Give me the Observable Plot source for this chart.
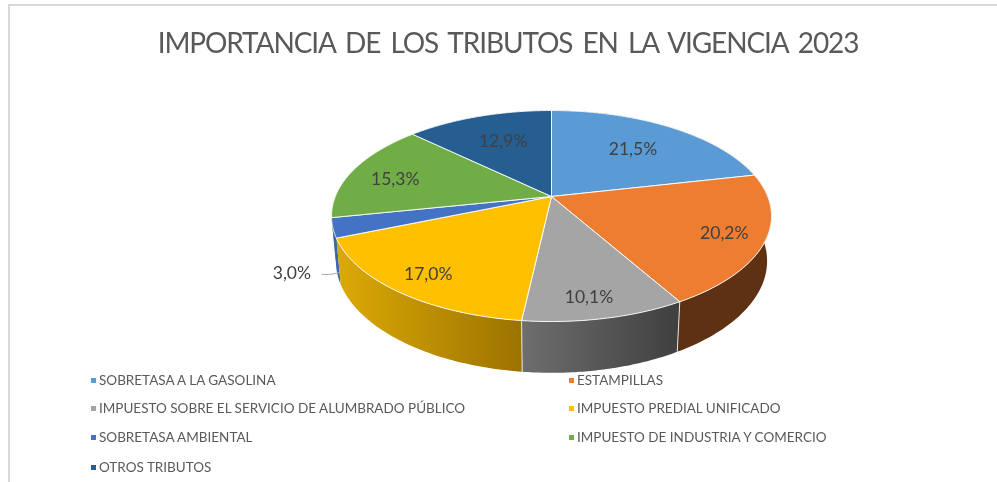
<!DOCTYPE html>
<html lang="es">
<head>
<meta charset="utf-8">
<script src="https://cdn.jsdelivr.net/npm/d3@7"></script>
<script src="https://cdn.jsdelivr.net/npm/@observablehq/plot@0.6"></script>
<style>
  html, body { margin: 0; padding: 0; background: #fff; overflow: hidden; }
  #frame { position: absolute; left: 8px; top: 4px; width: 989px; height: 478px; box-sizing: border-box;
           border-left: 2px solid #d9d9d9; border-top: 2px solid #d9d9d9; font-family: Lato, sans-serif; filter: blur(0.35px); }
  #title { height: 69px; margin: 0; padding: 19px 0 0 9px; box-sizing: border-box; text-align: center;
           font-size: 28px; line-height: 34px; font-weight: 400; color: #595959; word-spacing: 4px; letter-spacing: -1.1px; white-space: nowrap; }
  #chart svg { display: block; }
  #legend { position: absolute; left: 0; top: 359px; width: 987px; height: 118px; color: #595959; font-size: 13.5px; }
  .item { position: absolute; white-space: nowrap; line-height: 16px; }
  .item i { position: absolute; left: -8px; top: 6px; width: 5px; height: 5px; }
</style>
</head>
<body>
<div id="frame">
  <h1 id="title">IMPORTANCIA DE LOS TRIBUTOS EN LA VIGENCIA 2023</h1>
  <div id="chart"></div>
  <div id="legend"></div>
</div>
<script>
const categories = ["SOBRETASA A LA GASOLINA", "ESTAMPILLAS", "IMPUESTO SOBRE EL SERVICIO DE ALUMBRADO PÚBLICO", "IMPUESTO PREDIAL UNIFICADO", "SOBRETASA AMBIENTAL", "IMPUESTO DE INDUSTRIA Y COMERCIO", "OTROS TRIBUTOS"];
const values = [21.5, 20.2, 10.1, 17.0, 3.0, 15.3, 12.9];
const labels = ["21,5%", "20,2%", "10,1%", "17,0%", "3,0%", "15,3%", "12,9%"];
const colors = ["#5B9BD5", "#ED7D31", "#A5A5A5", "#FFC000", "#4472C4", "#70AD47", "#255E91"];

// View of the pie (perspective and depth) and where each label sits relative to its slice
const tilt = 0.185, depth = 0.43, floorScale = 0.98;
const labelRadius = [0.66, 0.82, 0.84, 0.83, 1, 0.77, 0.66];
const labelShift = [0, 0, 0.0045, 0, 0, -0.006, 0.003];
const wallFill = ["#5f3113", "#5f3113", "url(#wallGrey)", "url(#wallYellow)", "#3a66b0", "#70AD47", "#255E91"];

// Perspective projection of a disk point given as clockwise turn from the top
const project = (turn, r = 1) => {
  const a = turn * 2 * Math.PI, X = r * Math.sin(a), Y = -r * Math.cos(a), w = 1 - tilt * Y;
  return {x: X / w, y: Y / w, w};
};
const floor = (turn) => {
  const p = project(turn);
  return {x: p.x * floorScale, y: p.y * floorScale + depth / p.w};
};
const turns = (a, b) => d3.range(0, 61).map((i) => a + (b - a) * i / 60);

const total = d3.sum(values);
const cum = d3.cumsum(values).map((v) => v / total);
const slices = values.map((v, i) => ({i, start: i ? cum[i - 1] : 0, end: cum[i]}));

const top3d = (s) => [{x: 0, y: project(0, 0).y}, ...turns(s.start, s.end).map((t) => project(t))];
const wall = (s) => [...turns(s.start, s.end).map((t) => project(t)), ...turns(s.end, s.start).map(floor)];

const labelData = slices.map((s) => ({...project((s.start + s.end) / 2 + labelShift[s.i], labelRadius[s.i]), text: labels[s.i], i: s.i}));

// 3,0% sits outside the pie, tied to the blue wall by a leader
const blueTurn = (slices[4].start + slices[4].end) / 2;
const blueRim = project(blueTurn), blueFloor = floor(blueTurn);
const anchor = {x: blueRim.x + (blueFloor.x - blueRim.x) * 0.95 + 0.025, y: blueRim.y + (blueFloor.y - blueRim.y) * 0.95};
const leader = [[anchor.x, anchor.y], [anchor.x - 0.05, anchor.y + 0.035], [anchor.x - 0.095, anchor.y + 0.03]]
  .map(([x, y]) => ({x, y}));

const separators = [slices[1].end, slices[2].end].map((t) => {
  const a = project(t), b = floor(t);
  return {x1: a.x, y1: a.y, x2: b.x, y2: b.y};
});

const defs = () => {
  const svgNS = "http://www.w3.org/2000/svg";
  const d = document.createElementNS(svgNS, "defs");
  const add = (id, c0, c1) => {
    const g = document.createElementNS(svgNS, "linearGradient");
    g.setAttribute("id", id);
    [[0, c0], [1, c1]].forEach(([o, c]) => {
      const s = document.createElementNS(svgNS, "stop");
      s.setAttribute("offset", o); s.setAttribute("stop-color", c);
      g.appendChild(s);
    });
    d.appendChild(g);
  };
  add("wallYellow", "#dcaa06", "#9c7200");
  add("wallGrey", "#6e6e6e", "#3f3f3f");
  return d;
};

const xy = {x: "x", y: "y"};
const chart = Plot.plot({
  width: 987, height: 369,
  margin: 0,
  x: {axis: null, domain: [-1, 1], range: [541 - 216.2, 541 + 216.2]},
  y: {axis: null, domain: [-1, 1], range: [121 - 101.9, 121 + 101.9]},
  marks: [
    defs,
    ...[0, 5, 6, 1, 4, 3, 2].map((i) => Plot.line(wall(slices[i]), {...xy, fill: wallFill[i], stroke: "none"})),
    Plot.link(separators, {x1: "x1", y1: "y1", x2: "x2", y2: "y2", stroke: "#e4e4e4", strokeWidth: 1}),
    ...slices.map((s) => Plot.line([...top3d(s), top3d(s)[0]], {...xy, fill: colors[s.i], stroke: "#ffffff", strokeWidth: 0.9})),
    Plot.line(leader, {...xy, curve: "basis", stroke: "#a6a6a6", strokeWidth: 1}),
    Plot.text(labelData.filter((d) => d.i !== 4), {...xy, text: "text", dy: 1, fontSize: 17.5, fontFamily: "Lato, sans-serif", fill: "#404040"}),
    Plot.text([leader[2]], {...xy, text: () => labels[4], dx: -30, dy: -1, fontSize: 17.5, fontFamily: "Lato, sans-serif", fill: "#404040"})
  ]
});
document.getElementById("chart").appendChild(chart);

const legend = document.getElementById("legend");
categories.forEach((c, i) => {
  const el = document.createElement("div");
  el.className = "item";
  el.style.left = (i % 2 ? 567 : 89) + "px";
  el.style.top = [0, 28, 57, 87][Math.floor(i / 2)] + 7 + "px";
  const mark = document.createElement("i");
  mark.style.background = colors[i];
  el.appendChild(mark);
  el.appendChild(document.createTextNode(c));
  legend.appendChild(el);
});
</script>
</body>
</html>
